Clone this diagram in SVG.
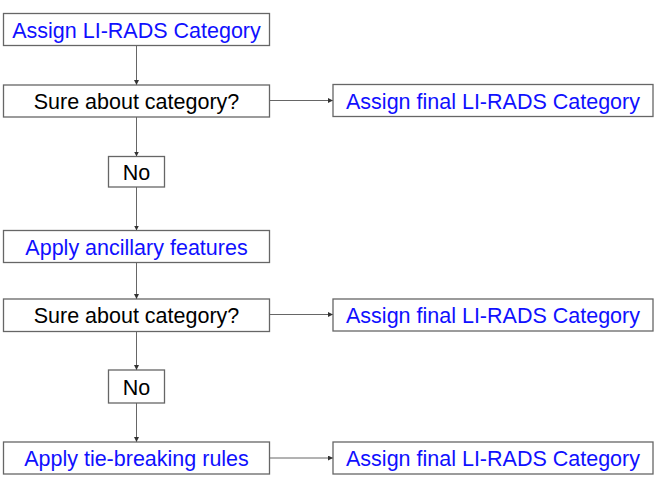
<svg xmlns="http://www.w3.org/2000/svg" width="657" height="493" viewBox="0 0 657 493">
<style>
.box{fill:#fff;stroke:#666;stroke-width:1.3}
.t{font-family:"Liberation Sans",Arial,sans-serif;font-size:21.5px;text-anchor:middle}
.b{fill:#1010ff}
.k{fill:#000}
.c{stroke:#666;stroke-width:1;fill:none;marker-end:url(#ah)}
</style>
<defs>
<marker id="ah" viewBox="0 0 6 6" refX="6" refY="3" markerWidth="5" markerHeight="5" markerUnits="userSpaceOnUse" orient="auto">
<path d="M0,0 L6,3 L0,6 z" fill="#333"/>
</marker>
</defs>
<g id="connectors">
<line class="c" x1="136.5" y1="45.5" x2="136.5" y2="85"/>
<line class="c" x1="269.5" y1="100.5" x2="333" y2="100.5"/>
<line class="c" x1="136.5" y1="117" x2="136.5" y2="156.5"/>
<line class="c" x1="136.5" y1="187" x2="136.5" y2="230.5"/>
<line class="c" x1="136.5" y1="262.5" x2="136.5" y2="299"/>
<line class="c" x1="269.5" y1="314.5" x2="333" y2="314.5"/>
<line class="c" x1="136.5" y1="331.5" x2="136.5" y2="370"/>
<line class="c" x1="136.5" y1="403" x2="136.5" y2="442"/>
<line class="c" x1="269.5" y1="458" x2="333" y2="458"/>
</g>
<g id="n1"><rect class="box" x="3.5" y="13.5" width="266" height="32"/><text class="t b" x="136.5" y="37.5">Assign LI-RADS Category</text></g>
<g id="n2"><rect class="box" x="3.5" y="85" width="266" height="32"/><text class="t k" x="136.5" y="109">Sure about category?</text></g>
<g id="n3"><rect class="box" x="333" y="84.5" width="320" height="32"/><text class="t b" x="493" y="108.5">Assign final LI-RADS Category</text></g>
<g id="n4"><rect class="box" x="108.5" y="156.5" width="56" height="30.5"/><text class="t k" x="136.5" y="180">No</text></g>
<g id="n5"><rect class="box" x="3.5" y="230.5" width="266" height="32"/><text class="t b" x="136.5" y="254.5">Apply ancillary features</text></g>
<g id="n6"><rect class="box" x="3.5" y="299" width="266" height="32.5"/><text class="t k" x="136.5" y="323">Sure about category?</text></g>
<g id="n7"><rect class="box" x="333" y="299" width="320" height="32"/><text class="t b" x="493" y="323">Assign final LI-RADS Category</text></g>
<g id="n8"><rect class="box" x="108.5" y="370" width="56" height="33"/><text class="t k" x="136.5" y="394.5">No</text></g>
<g id="n9"><rect class="box" x="3.5" y="442" width="266" height="32"/><text class="t b" x="136.5" y="466">Apply tie-breaking rules</text></g>
<g id="n10"><rect class="box" x="333" y="442" width="320" height="32"/><text class="t b" x="493" y="466">Assign final LI-RADS Category</text></g>
</svg>
